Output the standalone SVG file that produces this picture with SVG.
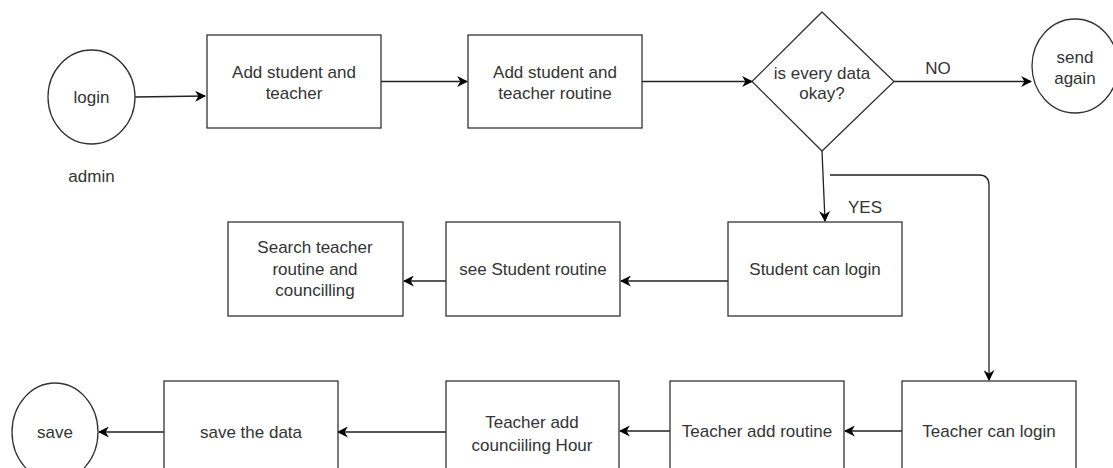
<svg xmlns="http://www.w3.org/2000/svg" width="1113" height="468" viewBox="0 0 1113 468">
<defs>
<marker id="arr" viewBox="0 0 10 10" refX="9" refY="5" markerWidth="11" markerHeight="11" markerUnits="userSpaceOnUse" orient="auto">
<path d="M0,0 L10,5 L0,10 L3,5 Z" fill="#000"/>
</marker>
<style>
.shape{fill:#fff;stroke:#333;stroke-width:1.3}
.t{font-family:"Liberation Sans",Arial,sans-serif;font-size:17px;fill:#333;text-anchor:middle}
.c{fill:none;stroke:#222;stroke-width:1.3}
.ca{fill:none;stroke:#222;stroke-width:1.3;marker-end:url(#arr)}
</style>
</defs>
<rect width="1113" height="468" fill="#fff"/>
<g id="connectors">
<path class="ca" d="M135,97 L205,96"/>
<path class="ca" d="M381,81.5 L467,81.5"/>
<path class="ca" d="M642,81.5 L752,81.5"/>
<path class="ca" d="M894,81.5 L1031,81.5"/>
<path class="ca" d="M822,151 L825,221"/>
<path class="ca" d="M830,175 H979 Q989,175 989,185 V380"/>
<path class="ca" d="M728,281 L621,281"/>
<path class="ca" d="M446,281 L404,281"/>
<path class="ca" d="M902,431 L845,431"/>
<path class="ca" d="M670,431 L620,431"/>
<path class="ca" d="M446,432 L338,432"/>
<path class="ca" d="M164,432 L99,432"/>
<text class="t" x="938" y="74">NO</text>
<text class="t" x="865" y="213">YES</text>
</g>
<g id="login">
<ellipse class="shape" cx="91.5" cy="97" rx="43.5" ry="47"/>
<text class="t" x="91.5" y="103">login</text>
<text class="t" x="91.5" y="182">admin</text>
</g>
<g id="add-student-teacher">
<rect class="shape" x="207" y="35" width="174" height="93"/>
<text class="t" x="294" y="78">Add student and</text>
<text class="t" x="294" y="99">teacher</text>
</g>
<g id="add-routine">
<rect class="shape" x="468" y="35" width="174" height="93"/>
<text class="t" x="555" y="78">Add student and</text>
<text class="t" x="555" y="99">teacher routine</text>
</g>
<g id="decision">
<polygon class="shape" points="822,12 894,81.5 822,151 752,81.5"/>
<text class="t" x="822" y="79">is every data</text>
<text class="t" x="822" y="99">okay?</text>
</g>
<g id="send-again">
<ellipse class="shape" cx="1075" cy="66" rx="43" ry="47"/>
<text class="t" x="1075" y="63">send</text>
<text class="t" x="1075" y="84">again</text>
</g>
<g id="student-login">
<rect class="shape" x="728" y="222" width="174" height="94"/>
<text class="t" x="815" y="275">Student can login</text>
</g>
<g id="see-student-routine">
<rect class="shape" x="446" y="222" width="174" height="94"/>
<text class="t" x="533" y="275">see Student routine</text>
</g>
<g id="search-teacher">
<rect class="shape" x="228" y="222" width="175" height="94"/>
<text class="t" x="315" y="253">Search teacher</text>
<text class="t" x="315" y="275">routine and</text>
<text class="t" x="315" y="296">councilling</text>
</g>
<g id="teacher-login">
<rect class="shape" x="902" y="381" width="174" height="93"/>
<text class="t" x="989" y="437">Teacher can login</text>
</g>
<g id="teacher-add-routine">
<rect class="shape" x="670" y="381" width="174" height="93"/>
<text class="t" x="757" y="437">Teacher add routine</text>
</g>
<g id="teacher-add-hour">
<rect class="shape" x="446" y="381" width="173" height="93"/>
<text class="t" x="532" y="428">Teacher add</text>
<text class="t" x="532" y="451">counciiling Hour</text>
</g>
<g id="save-data">
<rect class="shape" x="164" y="381" width="174" height="93"/>
<text class="t" x="251" y="438">save the data</text>
</g>
<g id="save">
<ellipse class="shape" cx="55" cy="432" rx="43" ry="49"/>
<text class="t" x="55" y="438">save</text>
</g>
</svg>
